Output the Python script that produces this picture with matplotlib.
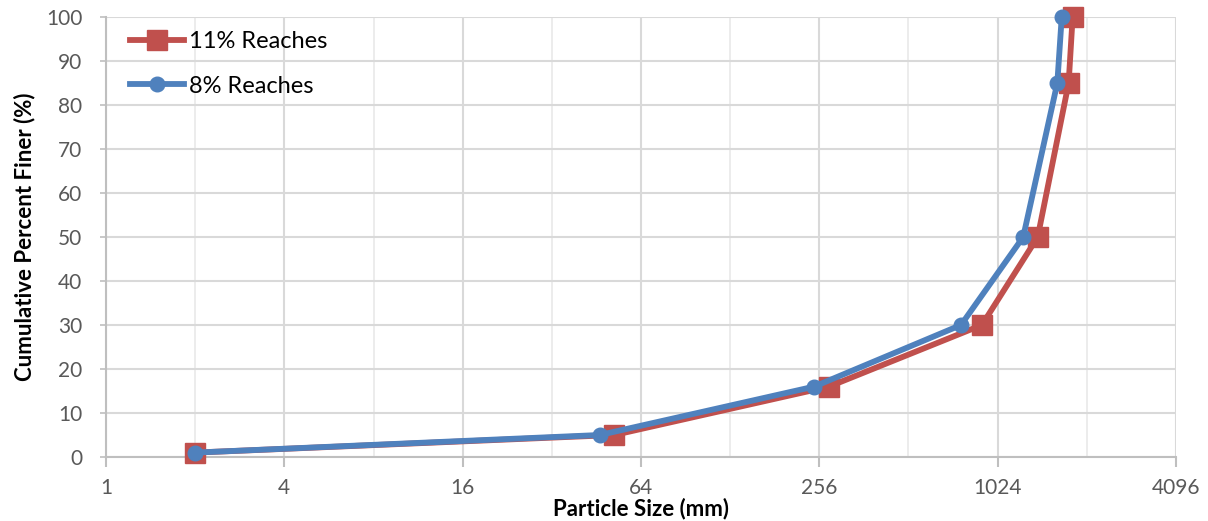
import matplotlib
matplotlib.use("Agg")
import matplotlib.pyplot as plt
from matplotlib.ticker import FixedLocator, NullFormatter

# Data
cum_pct = [1, 5, 16, 30, 50, 85, 100]
size_11 = [2.0, 52, 276, 906, 1398, 1778, 1834]
size_8 = [2.0, 46.5, 246, 770, 1249, 1628, 1685]
labels = ["11% Reaches", "8% Reaches"]
xticks = [1, 4, 16, 64, 256, 1024, 4096]
xminor = [2, 8, 32, 128, 512, 2048]
yticks = list(range(0, 101, 10))

red = "#C0504D"
blue = "#4F81BD"
tick_col = "#595959"
grid_major = "#D9D9D9"
grid_minor = "#EAEAEA"

plt.rcParams['font.family'] = ['Lato', 'DejaVu Sans']

fig = plt.figure(figsize=(12.08, 5.21), dpi=100)
ax = fig.add_axes([106/1208, (521-457)/521, (1176-106)/1208, (457-17)/521])

ax.plot(size_11, cum_pct, color=red, lw=4.2, marker='s', ms=14, label=labels[0],
        zorder=3, clip_on=False)
ax.plot(size_8, cum_pct, color=blue, lw=4.2, marker='o', ms=10.5, label=labels[1],
        zorder=4, clip_on=False)

ax.set_xscale('log', base=2)
ax.set_xlim(1, 4096)
ax.set_ylim(0, 100)
ax.xaxis.set_major_locator(FixedLocator(xticks))
ax.set_xticklabels([str(v) for v in xticks])
ax.xaxis.set_minor_locator(FixedLocator(xminor))
ax.xaxis.set_minor_formatter(NullFormatter())
ax.set_yticks(yticks)

ax.grid(True, which='major', color=grid_major, lw=1.5, zorder=0)
ax.grid(True, which='minor', axis='x', color=grid_minor, lw=1.3, zorder=0)
ax.set_axisbelow(True)

for s in ['top', 'right']:
    ax.spines[s].set_visible(False)
for s in ['left', 'bottom']:
    ax.spines[s].set_color('#BFBFBF')
    ax.spines[s].set_linewidth(1.5)

ax.tick_params(axis='x', which='major', colors='#BFBFBF', labelcolor=tick_col,
               labelsize=15, length=7, width=1.5, pad=8)
ax.tick_params(axis='x', which='minor', length=0)
ax.tick_params(axis='y', colors='#BFBFBF', labelcolor=tick_col,
               labelsize=15, length=4, width=1.2, pad=13)

ax.set_xlabel("Particle Size (mm)", fontsize=16, fontweight='bold', labelpad=0)
ax.set_ylabel("Cumulative Percent Finer (%)", fontsize=16, fontweight='bold', labelpad=8)

leg = ax.legend(loc='upper left', bbox_to_anchor=(0.0224, 0.968), frameon=False,
                fontsize=17, handlelength=2.3, handletextpad=0.2,
                labelspacing=1.0, borderaxespad=0.0, borderpad=0.0)

fig.savefig("out.png", dpi=100)
